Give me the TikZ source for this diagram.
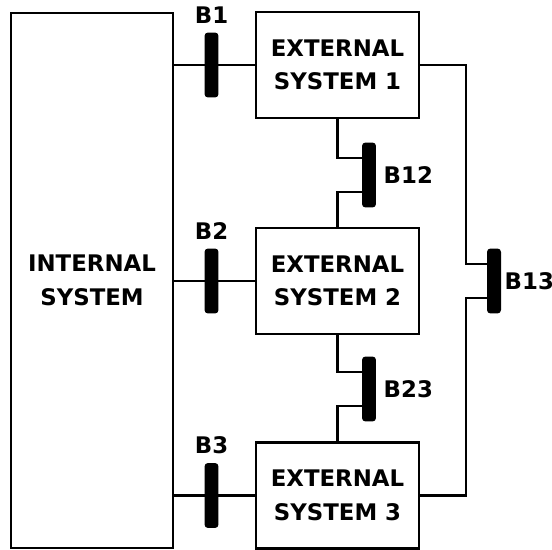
\documentclass[tikz,border=0pt]{standalone}
\usepackage{fontspec}
\setmainfont{DejaVu Sans}
\usetikzlibrary{positioning}

\begin{document}
\begin{tikzpicture}[x=0.02cm, y=-0.02cm,
    sysbox/.style={draw, line width=1.6pt, align=center, font=\bfseries\fontsize{13}{19}\selectfont},
    busbar/.style={fill=black, rounded corners=2pt, minimum width=0.28cm, minimum height=1.3cm, inner sep=0pt},
    buslabel/.style={inner sep=0pt, font=\bfseries\fontsize{13}{15}\selectfont},
    wire/.style={line width=1.2pt}]

\pgfmathsetmacro{\ew}{3.26}
\pgfmathsetmacro{\eh}{2.12}
\pgfmathsetmacro{\dy}{0.34}

\useasboundingbox (0,0) rectangle (552,550);

% Systems
\node[sysbox, minimum width=3.24cm, minimum height=10.7cm] (int) at (92,280.5) {INTERNAL\\SYSTEM};
\node[sysbox, minimum width=\ew cm, minimum height=\eh cm] (ext1) at (337.5,65) {EXTERNAL\\SYSTEM 1};
\node[sysbox, minimum width=\ew cm, minimum height=\eh cm] (ext2) at (337.5,281) {EXTERNAL\\SYSTEM 2};
\node[sysbox, minimum width=\ew cm, minimum height=\eh cm] (ext3) at (337.5,495.5) {EXTERNAL\\SYSTEM 3};

% Buses
\node[busbar] (b1) at (211.5,0 |- ext1) {};
\node[busbar] (b2) at (211.5,0 |- ext2) {};
\node[busbar] (b3) at (211.5,0 |- ext3) {};
\node[busbar] (b12) at (369,175) {};
\node[busbar] (b23) at (369,389) {};
\node[busbar] (b13) at (494,0 |- ext2) {};

\node[buslabel, above=0.16cm of b1] (l1) {B1};
\node[buslabel, above=0.16cm of b2] (l2) {B2};
\node[buslabel, above=0.16cm of b3] (l3) {B3};
\node[buslabel, right=0.14cm of b12] (l12) {B12};
\node[buslabel, right=0.14cm of b23] (l23) {B23};
\node[buslabel, right=0.06cm of b13] (l13) {B13};

% Wires
\draw[wire] (int.east |- ext1.west) -- (ext1.west);
\draw[wire] (int.east |- ext2.west) -- (ext2.west);
\draw[wire] (int.east |- ext3.west) -- (ext3.west);

\draw[wire] (ext1.south) |- ([yshift=\dy cm]b12.west);
\draw[wire] (ext2.north) |- ([yshift=-\dy cm]b12.west);
\draw[wire] (ext2.south) |- ([yshift=\dy cm]b23.west);
\draw[wire] (ext3.north) |- ([yshift=-\dy cm]b23.west);

\draw[wire] (ext1.east) -- ++(0.92cm,0) |- ([yshift=\dy cm]b13.west);
\draw[wire] (ext3.east) -- ++(0.92cm,0) |- ([yshift=-\dy cm]b13.west);

\end{tikzpicture}
\end{document}
